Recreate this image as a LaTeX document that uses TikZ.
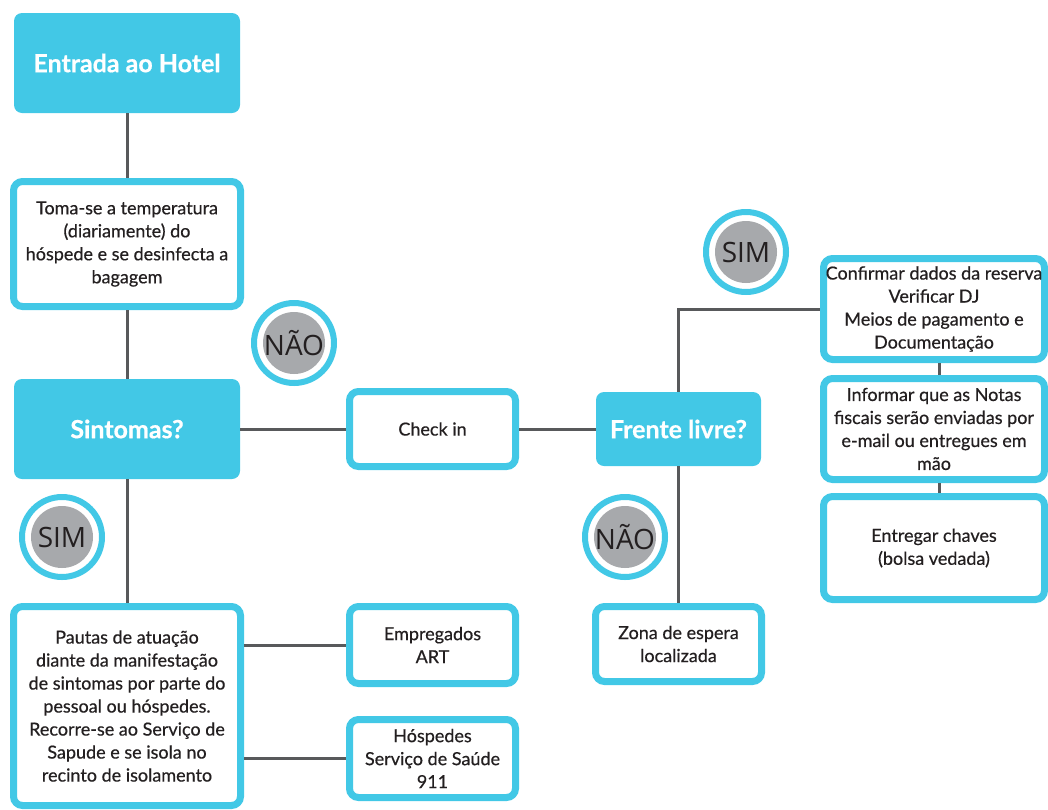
\documentclass[tikz,border=0pt]{standalone}
\usepackage{fontspec}
\setmainfont{Lato}
\newfontfamily\circfont{Open Sans}
\newfontfamily\bodyfont[FakeBold=0.5]{Lato}
\newfontfamily\hdrfont[FakeBold=0.6]{Lato Bold}
\definecolor{cy}{RGB}{66,200,230}
\definecolor{ln}{RGB}{88,89,91}
\definecolor{gy}{RGB}{167,169,172}
\definecolor{tx}{RGB}{35,31,32}
\tikzset{
  hdr/.style={fill=cy, rounded corners=8pt, text=white, font=\hdrfont\fontsize{25}{28}\selectfont, minimum width=226pt, inner sep=0pt},
  wbox/.style={draw=cy, line width=7pt, fill=white, rounded corners=9pt, text=tx, align=center, font=\bodyfont\fontsize{18}{23}\selectfont, inner sep=0pt},
  conn/.style={draw=ln, line width=3pt},
  ans/.style={circle, draw=cy, line width=6pt, fill=white, minimum size=80pt, inner sep=0pt, text=tx, font=\circfont\fontsize{28}{30}\selectfont,
    path picture={\fill[gy] (path picture bounding box.center) circle (31pt);}}
}
\begin{document}
\begin{tikzpicture}[x=1pt,y=-1pt]
\useasboundingbox (0,0) rectangle (1048,809);
% nodes
\node[hdr, minimum height=100pt] (entr) at (127,63) {Entrada ao Hotel};
\node[wbox, minimum width=227pt, minimum height=125pt] (toma) at (127,244) {Toma-se a temperatura\\(diariamente) do\\hóspede e se desinfecta a\\bagagem};
\node[hdr, minimum height=100pt] (sint) at (127,429) {Sintomas?};
\node[wbox, minimum width=227pt, minimum height=199pt] (paut) at (127,706) {Pautas de atuação\\diante da manifestação\\de sintomas por parte do\\pessoal ou hóspedes.\\Recorre-se ao Serviço de\\Sapude e se isola no\\recinto de isolamento};
\node[wbox, minimum width=166pt, minimum height=75pt] (chk) at (432.5,429) {Check in};
\node[hdr, minimum width=165pt, minimum height=74pt] (fren) at (678.5,429) {Frente livre?};
\node[wbox, minimum width=166pt, minimum height=75pt] (zona) at (678.5,644) {Zona de espera\\localizada};
\node[wbox, minimum width=166pt, minimum height=77pt] (empr) at (432.5,645) {Empregados\\ART};
\node[wbox, minimum width=166pt, minimum height=78pt] (hosp) at (432.5,758.5) {Hóspedes\\Serviço de Saúde\\911};
\node[wbox, minimum width=221pt, minimum height=101pt] (conf) at (934,309) {Confirmar dados da reserva\\Verificar DJ\\Meios de pagamento e\\Documentação};
\node[wbox, minimum width=221pt, minimum height=101pt] (info) at (934,429) {Informar que as Notas\\fiscais serão enviadas por\\e-mail ou entregues em\\mão};
\node[wbox, minimum width=221pt, minimum height=103pt] (entg) at (934,548) {Entregar chaves\\(bolsa vedada)};
% connectors
\path[conn] (entr.south) -- (toma.north);
\path[conn] (toma.south) -- (sint.north);
\path[conn] (sint.south) -- (paut.north);
\path[conn] (sint.east) -- (chk.west);
\path[conn] (chk.east) -- (fren.west);
\path[conn] (fren.north) |- (conf.west);
\path[conn] (fren.south) -- (zona.north);
\path[conn] ([xshift=5pt]conf.south) -- ([xshift=5pt]info.north);
\path[conn] ([xshift=5pt]info.south) -- ([xshift=5pt]entg.north);
\path[conn] (paut.east |- empr.west) -- (empr.west);
\path[conn] (paut.east |- hosp.west) -- (hosp.west);
% answer circles
\node[ans] (nao1) at (294,343) {NÃO};
\node[ans] (sim1) at (62,537) {SIM};
\node[ans] (sim2) at (746,252) {SIM};
\node[ans] (nao2) at (625,537) {NÃO};
\end{tikzpicture}
\end{document}
